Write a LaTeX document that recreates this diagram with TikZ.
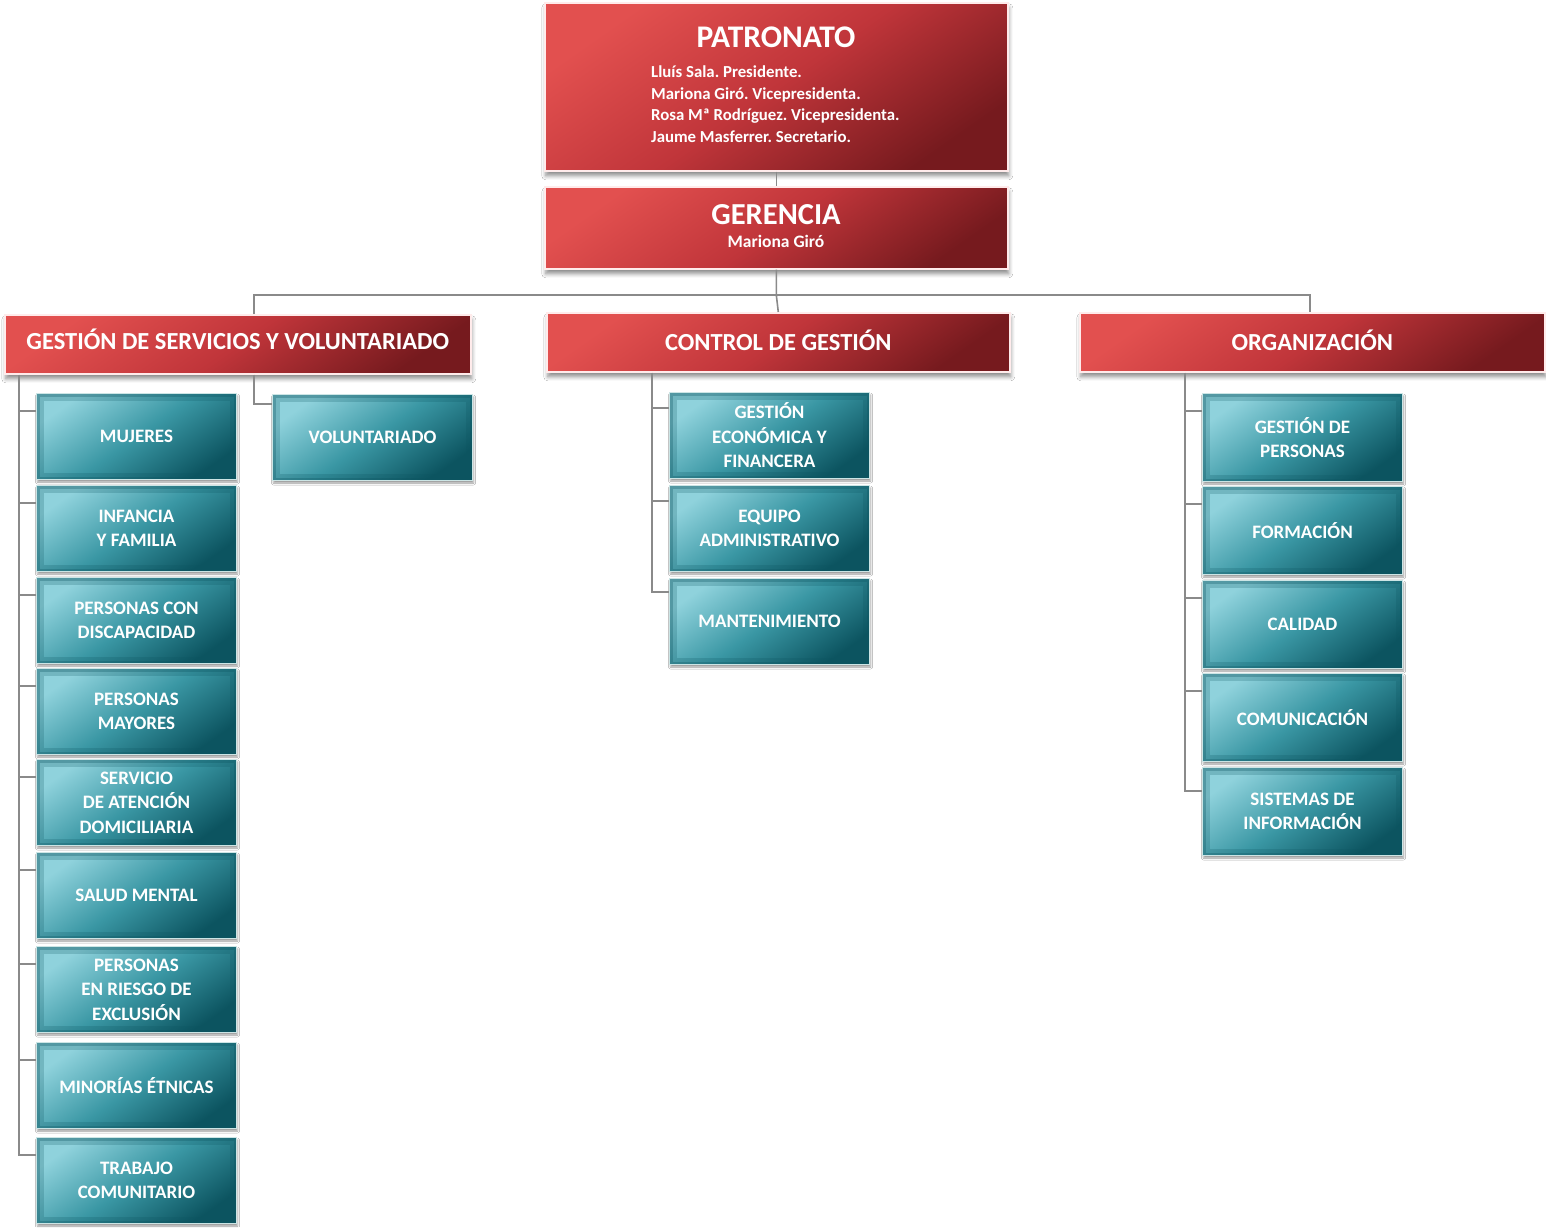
\documentclass[tikz,border=0pt]{standalone}
\usepackage{fontspec}
\setmainfont{Carlito}
\usetikzlibrary{shadows,shadows.blur}
\definecolor{redlight}{HTML}{E2504F}
\definecolor{redmid}{HTML}{C0353A}
\definecolor{reddark}{HTML}{761A1E}
\definecolor{teallight}{HTML}{8FD2DC}
\definecolor{tealmid}{HTML}{3A97A4}
\definecolor{tealdark}{HTML}{0C5460}
\definecolor{linegray}{HTML}{8A8A8A}
\frenchspacing
\begin{document}
\begin{tikzpicture}[x=1pt,y=-1pt,
  conn/.style={draw=linegray, line width=1.6pt},
  redbox/.style={rectangle, inner sep=0pt, anchor=north west,
    top color=redlight, bottom color=reddark, middle color=redmid, shading angle=35,
    draw=white!92!red, line width=1.6pt,
    blur shadow={shadow xshift=1pt, shadow yshift=-5pt, shadow blur radius=4pt, shadow blur steps=6, shadow opacity=45},
    text=white, font=\bfseries\fontsize{24.5}{28}\selectfont, align=center,
    text height=17pt, text depth=4pt},
  tealbox/.style={rectangle, inner sep=0pt, anchor=north west,
    minimum width=200, minimum height=86,
    top color=teallight, bottom color=tealdark, middle color=tealmid, shading angle=35,
    path picture={
      \draw[tealdark, line width=14pt, opacity=0.22] (path picture bounding box.south west) rectangle (path picture bounding box.north east);
      \draw[tealdark, line width=6pt, opacity=0.3] (path picture bounding box.south west) rectangle (path picture bounding box.north east);},
    draw=white!80!teal, line width=1pt,
    blur shadow={shadow xshift=1pt, shadow yshift=-2.5pt, shadow blur radius=2pt, shadow blur steps=4, shadow opacity=40},
    text=white, font=\bfseries\fontsize{19}{24.5}\selectfont, align=center},
  whitetext/.style={text=white, inner sep=0pt}
]
\fill[white] (0,0) rectangle (1546,1227);
\useasboundingbox (0,0) rectangle (1546,1227);

% top boxes
\node[redbox, minimum width=463, minimum height=168] (pat) at (544,2) {};
\node[whitetext, anchor=base, font=\bfseries\fontsize{31.5}{36}\selectfont] (patt) at (776,47) {PATRONATO};
\node[whitetext, anchor=north west, align=left, font=\bfseries\fontsize{16.8}{21.4}\selectfont] (patm) at (651,66)
  {Lluís Sala. Presidente.\\Mariona Giró. Vicepresidenta.\\Rosa Mª Rodríguez. Vicepresidenta.\\Jaume Masferrer. Secretario.};

\node[redbox, minimum width=463, minimum height=82] (ger) at (544,186) {};
\node[whitetext, anchor=base, font=\bfseries\fontsize{30.5}{34}\selectfont] (gert) at (776,224) {GERENCIA};
\node[whitetext, anchor=base, font=\bfseries\fontsize{17.5}{20}\selectfont] (germ) at (776,247) {Mariona Giró};

% headers
\node[redbox, minimum width=466, minimum height=59, text depth=6pt] (h1) at (4,314) {GESTIÓN DE SERVICIOS Y VOLUNTARIADO};
\node[redbox, minimum width=463, minimum height=59, text depth=1pt] (h2) at (546,312) {CONTROL DE GESTIÓN};
\node[redbox, minimum width=465, minimum height=59, text depth=1pt] (h3) at (1079,312) {ORGANIZACIÓN};

% connectors top
\coordinate (j1) at (254,295);
\coordinate (j3) at (1310,295);
\draw[conn] (pat.south) -- (ger.north);
\draw[conn] (ger.south) -- (ger.south |- j1) -- (h2.north);
\draw[conn] (j1 |- h1.north) -- (j1) -- (j3) -- (j3 |- h3.north);

% left column
\node[tealbox] (b1) at (36,393) {MUJERES};
\node[tealbox] (b2) at (36,485) {INFANCIA\\Y FAMILIA};
\node[tealbox] (b3) at (36,577) {PERSONAS CON\\DISCAPACIDAD};
\node[tealbox] (b4) at (36,668) {PERSONAS\\MAYORES};
\node[tealbox] (b5) at (36,759) {SERVICIO\\DE ATENCIÓN\\DOMICILIARIA};
\node[tealbox] (b6) at (36,852) {SALUD MENTAL};
\node[tealbox] (b7) at (36,946) {PERSONAS\\EN RIESGO DE\\EXCLUSIÓN};
\node[tealbox] (b8) at (36,1042) {MINORÍAS ÉTNICAS};
\node[tealbox] (b9) at (36,1137) {TRABAJO\\COMUNITARIO};
\node[tealbox] (vol) at (272,394) {VOLUNTARIADO};

\coordinate (lt) at (19,0);
\draw[conn] (lt |- h1.south) |- ([yshift=-18pt]b9.north west);
\foreach \b in {b1,b2,b3,b4,b5,b6,b7,b8}
  \draw[conn] ([yshift=-18pt]\b.north west) -- ++(-17,0);
\draw[conn] (j1 |- h1.south) |- ([yshift=-10pt]vol.north west);

% middle column
\node[tealbox] (m1) at (669,392) {GESTIÓN\\ECONÓMICA Y\\FINANCERA};
\node[tealbox] (m2) at (669,485) {EQUIPO\\ADMINISTRATIVO};
\node[tealbox] (m3) at (669,578) {MANTENIMIENTO};
\coordinate (mt) at (652,0);
\draw[conn] (mt |- h2.south) |- ([yshift=-14pt]m3.north west);
\foreach \b in {m1,m2}
  \draw[conn] ([yshift=-16pt]\b.north west) -- ++(-17,0);

% right column
\node[tealbox, minimum height=88] (r1) at (1202,393) {GESTIÓN DE\\PERSONAS};
\node[tealbox, minimum height=88] (r2) at (1202,486) {FORMACIÓN};
\node[tealbox, minimum height=88] (r3) at (1202,580) {CALIDAD};
\node[tealbox, minimum height=88] (r4) at (1202,673) {COMUNICACIÓN};
\node[tealbox, minimum height=88] (r5) at (1202,767) {SISTEMAS DE\\INFORMACIÓN};
\coordinate (rt) at (1185,0);
\draw[conn] (rt |- h3.south) |- ([yshift=-24pt]r5.north west);
\foreach \b in {r1,r2,r3,r4}
  \draw[conn] ([yshift=-18pt]\b.north west) -- ++(-17,0);
\end{tikzpicture}
\end{document}
